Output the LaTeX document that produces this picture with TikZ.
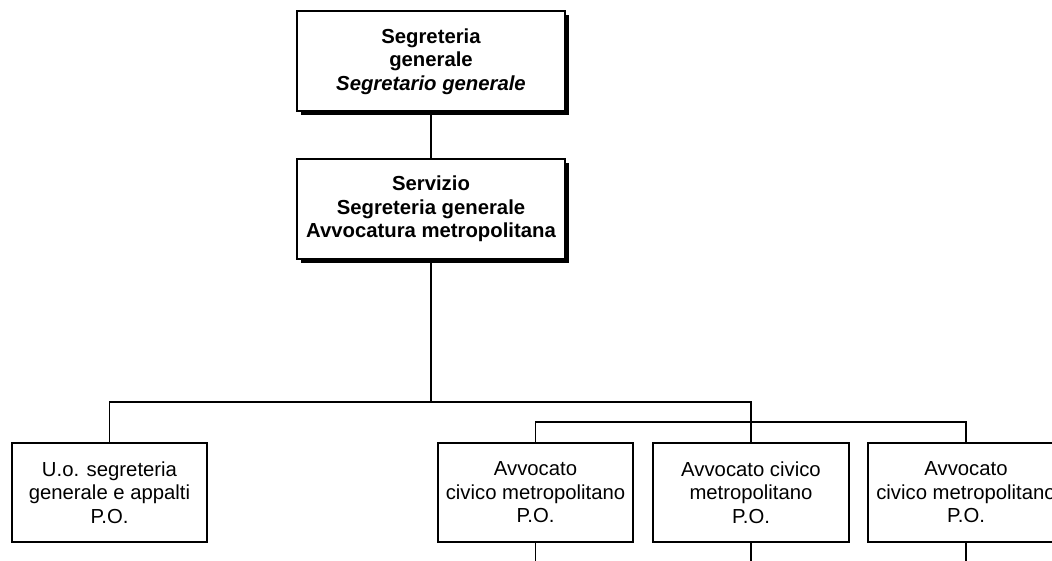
\documentclass[tikz,border=0pt]{standalone}
\usepackage{fontspec}
\setmainfont{Liberation Sans}
\usetikzlibrary{shadows}
\begin{document}
\begin{tikzpicture}[x=1pt,y=-1pt,
  every node/.style={font=\fontsize{20.3}{23.5}\selectfont, align=center, inner sep=0pt},
  headbox/.style={draw, line width=2pt, fill=white, minimum width=268pt, minimum height=100pt,
    drop shadow={shadow xshift=4pt, shadow yshift=-4pt, fill=black, opacity=1}},
  unitbox/.style={draw, line width=1.3pt, fill=white, minimum width=195pt, minimum height=99pt},
  conn/.style={line width=1.6pt}]
\useasboundingbox (0,0) rectangle (1052,561);
\clip (0,0) rectangle (1052,561);
\node[headbox] (top) at (431,61.5) {\bfseries Segreteria\\\bfseries generale\\\bfseries\itshape Segretario generale};
\node[headbox] (serv) at (431,209) {\bfseries Servizio\\\bfseries Segreteria generale\\\bfseries Avvocatura metropolitana};
\node[unitbox] (uo) at (109.5,492.5) {U.o. segreteria\\generale e appalti\\P.O.};
\node[unitbox] (av1) at (535.5,492.5) {Avvocato\\civico metropolitano\\P.O.};
\node[unitbox, minimum width=196pt] (av2) at (751,492.5) {Avvocato civico\\metropolitano\\P.O.};
\node[unitbox, minimum width=196pt] (av3) at (966,492.5) {Avvocato\\civico metropolitano\\P.O.};
\coordinate (bus) at (431,402);
\coordinate (busr) at (751,402);
\coordinate (ibr) at (966,422);
\coordinate (d1) at (535.5,561);
\coordinate (d2) at (751,561);
\coordinate (d3) at (966,561);
\draw[conn] (top.south) -- (serv.south |- top.south) -- (serv.north);
\draw[conn] (serv.south) -- (bus);
\draw[conn] (uo.north) |- (busr) -- (av2.north);
\draw[conn] (av1.north) |- (ibr) -- (av3.north);
\draw[conn] (av1.south) -- (d1);
\draw[conn] (av2.south) -- (d2);
\draw[conn] (av3.south) -- (d3);
\end{tikzpicture}
\end{document}
